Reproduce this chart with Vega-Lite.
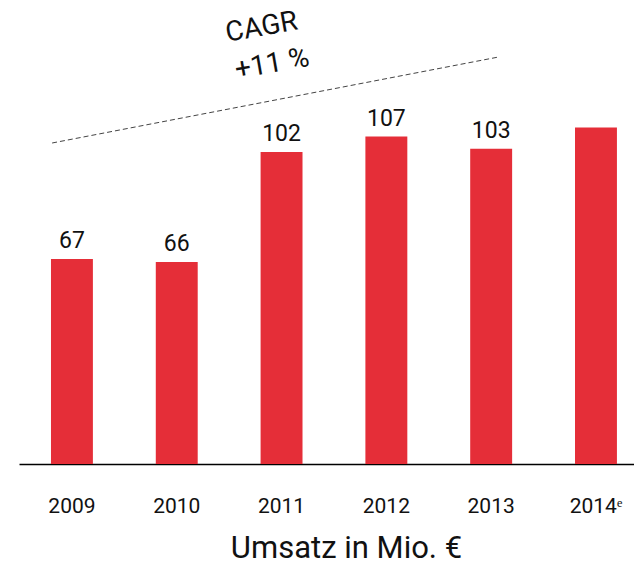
{
  "$schema": "https://vega.github.io/schema/vega-lite/v6.json",
  "width": 615,
  "height": 459,
  "autosize": {"type": "none"},
  "padding": {"left": 19, "top": 5, "right": 0, "bottom": 105},
  "background": "white",
  "config": {"view": {"stroke": null}, "font": "Roboto"},
  "datasets": {
    "sales": [
      {"year": "2009", "value": 67, "label": "67"},
      {"year": "2010", "value": 66, "label": "66"},
      {"year": "2011", "value": 102, "label": "102"},
      {"year": "2012", "value": 107, "label": "107"},
      {"year": "2013", "value": 103, "label": "103"},
      {"year": "2014ᵉ", "value": 110, "label": ""}
    ],
    "trend": [
      {"t": 2008.81, "v": 104.9},
      {"t": 2013.07, "v": 133.0}
    ],
    "notes": [
      {"t": 2010.81, "v": 142.6, "text": "CAGR"},
      {"t": 2010.91, "v": 130.6, "text": "+11 %"}
    ]
  },
  "layer": [
    {
      "data": {"name": "sales"},
      "layer": [
        {
          "mark": {"type": "bar", "color": "#e52e38"},
          "encoding": {
            "x": {
              "field": "year", "type": "nominal", "sort": null,
              "scale": {"paddingInner": 0.6, "paddingOuter": 0.234, "align": 0.652},
              "axis": {
                "title": "Umsatz in Mio. €",
                "labelAngle": 0,
                "labelFontSize": 21,
                "labelColor": "#111",
                "labelPadding": 31,
                "ticks": false,
                "tickSize": 0,
                "domainColor": "#000",
                "domainWidth": 1.5,
                "titleFontSize": 31,
                "titleFontWeight": "normal",
                "titleColor": "#111",
                "titlePadding": 17,
                "titleX": 327,
                "titleAlign": "center"
              }
            },
            "y": {
              "field": "value", "type": "quantitative",
              "scale": {"domain": [0, 150], "nice": false},
              "axis": null
            }
          }
        },
        {
          "mark": {"type": "text", "baseline": "bottom", "dy": -6, "fontSize": 23, "color": "#111"},
          "encoding": {
            "x": {"field": "year", "type": "nominal", "sort": null},
            "y": {"field": "value", "type": "quantitative"},
            "text": {"field": "label"}
          }
        }
      ]
    },
    {
      "layer": [
        {
          "data": {"name": "trend"},
          "mark": {"type": "line", "color": "#444", "strokeWidth": 1, "strokeDash": [5, 3]},
          "encoding": {
            "x": {"field": "t", "type": "quantitative", "scale": {"domain": [2008.494, 2014.363], "nice": false, "zero": false}, "axis": null},
            "y": {"field": "v", "type": "quantitative"}
          }
        },
        {
          "data": {"name": "notes"},
          "mark": {"type": "text", "angle": 350, "fontSize": 28, "color": "#111", "baseline": "middle", "align": "center"},
          "encoding": {
            "x": {"field": "t", "type": "quantitative", "axis": null},
            "y": {"field": "v", "type": "quantitative"},
            "text": {"field": "text"}
          }
        }
      ]
    }
  ],
  "resolve": {"scale": {"x": "independent"}}
}
